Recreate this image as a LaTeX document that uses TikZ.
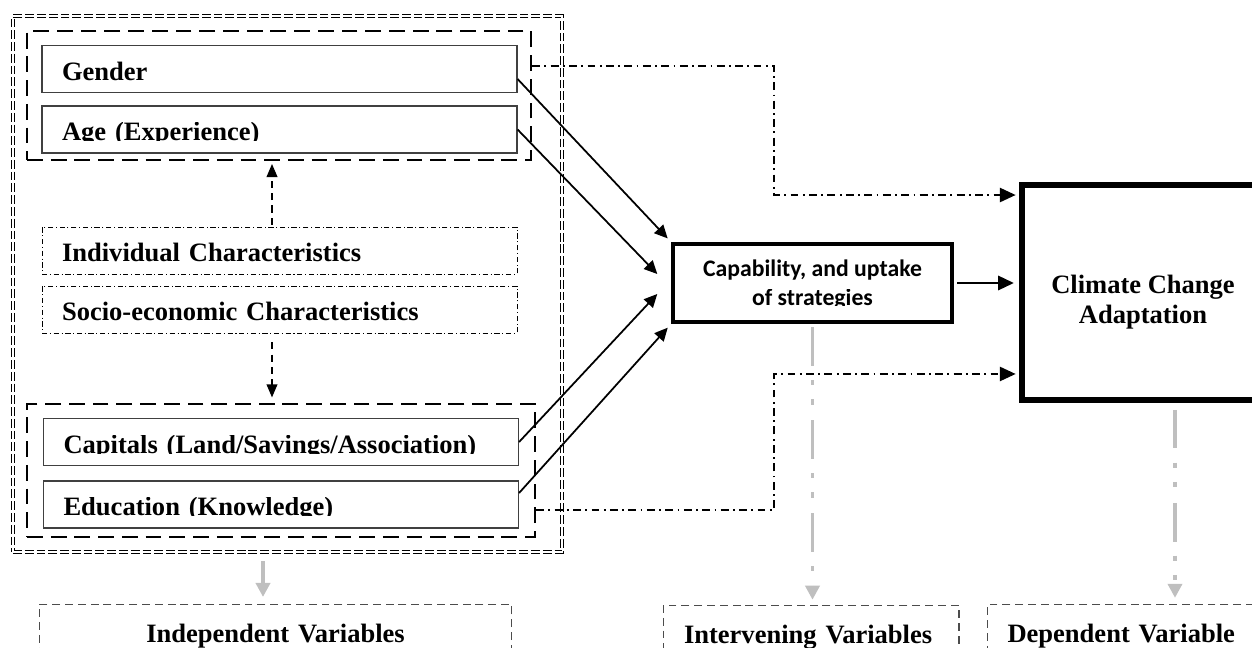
\documentclass[tikz,border=0pt]{standalone}
\usepackage{fontspec}
\setmainfont{Liberation Serif}
\newfontfamily\calibfont{Carlito}
\usepackage{trimclip}
\usetikzlibrary{arrows.meta}
\newcommand{\nodesc}[1]{\clipbox{0pt {\depth} 0pt 0pt}{#1}}

\begin{document}
\begin{tikzpicture}[
  x=0.02cm, y=-0.02cm,
  tnr/.style={font=\bfseries\fontsize{15.1}{17.5}\selectfont},
  outerbox/.style={draw, line width=0.55pt, double=white, double distance=1.1pt, dash pattern=on 5pt off 1.7pt, minimum width=10.98cm, minimum height=10.72cm, inner sep=0pt},
  grpbox/.style={draw, line width=1.4pt, dash pattern=on 9pt off 4.5pt, inner sep=0pt},
  itembox/.style={tnr, draw=black!75, line width=0.7pt, text width=8.7cm, align=left, inner xsep=0.4cm, inner ysep=0.24cm, text height=0.46cm, text depth=0pt},
  charbox/.style={itembox, draw=black, line width=0.5pt, dash pattern=on 3pt off 1.5pt on 0.6pt off 1.5pt},
  varbox/.style={tnr, draw=black!70, line width=0.6pt, dash pattern=on 4.5pt off 2.8pt, anchor=north, inner ysep=0.24cm, text height=0.52cm, text depth=0pt},
  capbox/.style={draw, line width=2pt, minimum width=5.58cm, minimum height=1.56cm, inner sep=0pt, align=center, font=\calibfont\bfseries\fontsize{13.5}{16.4}\selectfont},
  climbox/.style={draw, line width=3.2pt, minimum width=4.84cm, minimum height=4.3cm, inner sep=0pt},
  solidarr/.style={-{Triangle[length=7.5pt,width=7pt]}, line width=1pt},
  dasharr/.style={-{Triangle[length=7.5pt,width=6pt]}, line width=1.2pt, dash pattern=on 4pt off 3pt},
  ddarr/.style={-{Triangle[length=9pt,width=8pt]}, line width=1.3pt, dash pattern=on 4.5pt off 2.5pt on 1pt off 2.5pt},
  grayarr/.style={-{Triangle[length=8pt,width=8pt]}, black!25, line width=2pt},
  grayddash/.style={dash pattern=on 22pt off 8pt on 3pt off 8pt on 3pt off 9pt}
]
  \useasboundingbox (0,0) rectangle (1252,648);
  \clip (0,0) rectangle (1252,648);
  \node[outerbox] (outer) at (287.5,284) {};
  \node[grpbox, minimum width=10.08cm, minimum height=2.58cm] (topgrp) at (279,95.5) {};
  \node[grpbox, minimum width=10.16cm, minimum height=2.66cm] (botgrp) at (281,470.5) {};
  \node[itembox] (gender) at (279.5,69) {Gender};
  \node[itembox] (age) at (279.5,129.5) {\nodesc{Age (Experience)}};
  \node[charbox] (indiv) at (279.5,250.5) {Individual Characteristics};
  \node[charbox] (socio) at (279.5,309.5) {Socio-economic Characteristics};
  \node[itembox] (capitals) at (281,442) {\nodesc{Capitals (Land/Savings/Association)}};
  \node[itembox] (educ) at (281,504.5) {\nodesc{Education (Knowledge)}};
  \node[capbox] (cap) at (812.5,283) {Capability, and uptake\\\nodesc{of strategies}};
  \node[climbox, label={[tnr, align=center, yshift=-0.19cm]center:Climate Change\\Adaptation}] (clim) at (1143,292.5) {};
  \node[varbox, text width=8.66cm, align=center, inner xsep=0.4cm] (indep) at (275.5,604) {Independent Variables};
  \node[varbox, text width=5.08cm, align=left, inner xsep=0.42cm] (interv) at (811,605) {Intervening Variables};
  \node[varbox, anchor=north west, text width=4.7cm, align=left, inner xsep=0.4cm] (dep) at (987,604) {Dependent Variable};
  \draw[solidarr, shorten >=3pt] ([yshift=-0.2cm]gender.east) -- (cap.north west);
  \draw[solidarr] (age.east) -- ([shift={(-0.28cm,0.18cm)}]cap.west);
  \draw[solidarr] (capitals.east) -- ([shift={(-0.28cm,-0.22cm)}]cap.west);
  \draw[solidarr, shorten >=3pt] ([yshift=0.23cm]educ.east) -- (cap.south west);
  \draw[line width=1.7pt, -{Triangle[length=9pt,width=8pt]}, shorten <=2pt, shorten >=3pt] (cap.east) -- (cap.east -| clim.west);
  \draw[ddarr, shorten >=2pt] ([yshift=0.59cm]topgrp.east) -- ++(242,0) |- ([yshift=1.95cm]clim.west);
  \draw[ddarr, shorten >=2pt] ([yshift=-0.79cm]botgrp.east) -- ++(238,0) |- ([yshift=-1.63cm]clim.west);
  \draw[dasharr, shorten <=1pt, shorten >=1.5pt] ([xshift=-0.15cm]indiv.north) -- ([xshift=-0.15cm]indiv.north |- topgrp.south);
  \draw[dasharr, shorten <=5pt, shorten >=3pt] ([xshift=-0.15cm]socio.south) -- ([xshift=-0.15cm]socio.south |- botgrp.north);
  \draw[grayarr, shorten <=5pt, shorten >=4pt] ([xshift=-0.25cm]indep.north |- outer.south) -- ([xshift=-0.25cm]indep.north);
  \draw[grayarr, grayddash, shorten <=2pt, shorten >=3pt] (cap.south) -- (cap.south |- interv.north);
  \draw[grayarr, grayddash, shorten <=4pt, shorten >=3.5pt] ([xshift=0.64cm]clim.south) -- ([xshift=0.64cm]clim.south |- dep.north);
\end{tikzpicture}
\end{document}
